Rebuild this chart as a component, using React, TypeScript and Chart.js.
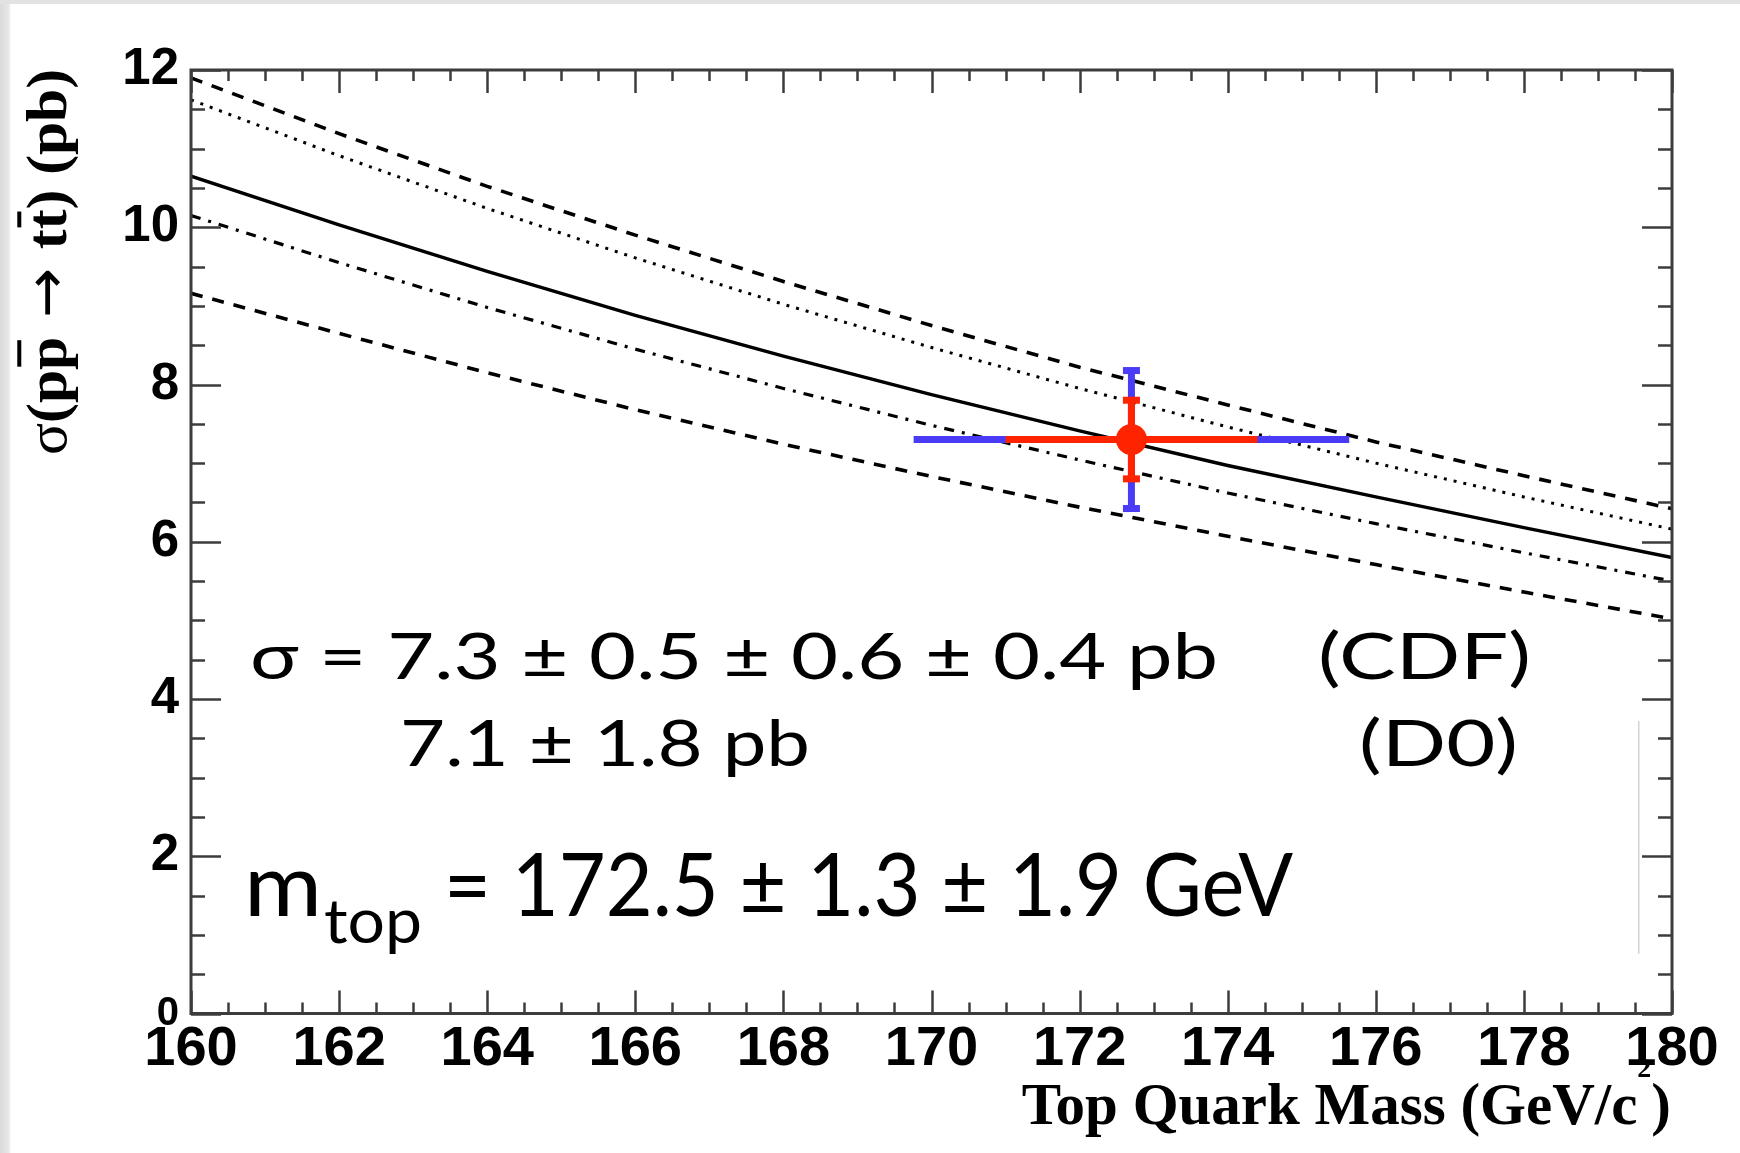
import React, { useEffect, useRef } from "react";
import { Chart, registerables } from "chart.js";

Chart.register(...registerables);

const CANVAS_W = 1740;
const CANVAS_H = 1153;

// Theory predictions: sigma(pp̄ -> tt̄) in pb versus top-quark mass in GeV/c^2
const massGrid = [160, 162, 164, 166, 168, 170, 172, 174, 176, 178, 180];
const sigmaCentral = [10.65, 10.03, 9.44, 8.88, 8.36, 7.87, 7.41, 6.97, 6.57, 6.18, 5.8];
const sigmaUpperDashed = [11.9, 11.19, 10.52, 9.9, 9.31, 8.75, 8.22, 7.74, 7.27, 6.84, 6.42];
const sigmaDotted = [11.62, 10.91, 10.24, 9.61, 9.02, 8.47, 7.95, 7.46, 7.0, 6.57, 6.16];
const sigmaDashDot = [10.15, 9.55, 8.98, 8.45, 7.95, 7.48, 7.04, 6.62, 6.23, 5.86, 5.5];
const sigmaLowerDashed = [9.16, 8.65, 8.15, 7.68, 7.24, 6.83, 6.44, 6.07, 5.71, 5.36, 5.02];

// Measured point with statistical and total uncertainties
const cdfMass = [172.7];
const cdfSigma = [7.3];
const massErrStat = [1.7];
const massErrSyst = [2.4];
const sigmaErrStat = [0.5];
const sigmaErrSyst = [0.6];
const sigmaErrLumi = [0.4];

// Axis ranges and tick spacing
const xRange = [160, 180];
const yRange = [0, 12];
const xMajorStep = 2;
const xMinorStep = 0.5;
const yMajorStep = 2;
const yMinorStep = 0.5;

// Annotation text
const sigmaLineCdf = "σ = 7.3 ± 0.5 ± 0.6 ± 0.4 pb";
const sigmaLineD0 = "7.1 ± 1.8 pb";
const cdfTag = "(CDF)";
const d0Tag = "(D0)";
const massSymbol = "m";
const massSubscript = "top";
const massValueText = "= 172.5 ± 1.3 ± 1.9 GeV";

const xTitleMain = "Top Quark Mass (GeV/c";
const xTitleSup = "2";
const xTitleClose = ")";

const RED = "#ff2400";
const BLUE = "#4a3cf6";
const FRAME = "#3c3c3c";
const SANS = '"Liberation Sans", Arial, Helvetica, sans-serif';
const SERIF = '"Liberation Serif", "DejaVu Serif", "Times New Roman", serif';
const HUMANIST = 'Lato, "Open Sans", "DejaVu Sans", sans-serif';

const quad = (...v: number[]) => Math.sqrt(v.reduce((s, e) => s + e * e, 0));

// Draw a string squeezed or stretched horizontally to span a given width
function fitText(ctx: CanvasRenderingContext2D, text: string, x: number, y: number, width: number) {
  const w = ctx.measureText(text).width;
  ctx.save();
  ctx.translate(x, y);
  ctx.scale(width / w, 1);
  ctx.fillText(text, 0, 0);
  ctx.restore();
}

const pageBackground = {
  id: "pageBackground",
  beforeDraw(chart: any) {
    const { ctx, width, height } = chart;
    ctx.save();
    ctx.fillStyle = "#ffffff";
    ctx.fillRect(0, 0, width, height);
    const g = ctx.createLinearGradient(0, 0, 11, 0);
    g.addColorStop(0, "#dadada");
    g.addColorStop(0.8, "#e8e8e8");
    g.addColorStop(1, "#ffffff");
    ctx.fillStyle = g;
    ctx.fillRect(0, 0, 11, height);
    ctx.fillStyle = "#e2e2e2";
    ctx.fillRect(0, 0, width, 4);
    ctx.restore();
  },
};

const isMultiple = (v: number, step: number) => Math.abs(v / step - Math.round(v / step)) < 1e-6;

const frameAndTicks = {
  id: "frameAndTicks",
  afterDatasetsDraw(chart: any) {
    const { ctx, chartArea: a, scales } = chart;
    const xs = scales.x;
    const ys = scales.y;
    ctx.save();
    ctx.strokeStyle = FRAME;
    ctx.lineCap = "butt";
    ctx.lineWidth = 2.5;
    ctx.beginPath();
    for (let v = xRange[0]; v <= xRange[1] + 1e-9; v += xMinorStep) {
      const px = Math.round(xs.getPixelForValue(v)) + 0.5;
      const len = isMultiple(v, xMajorStep) ? 23 : 11;
      ctx.moveTo(px, a.bottom);
      ctx.lineTo(px, a.bottom - len);
      ctx.moveTo(px, a.top);
      ctx.lineTo(px, a.top + len);
    }
    for (let v = yRange[0]; v <= yRange[1] + 1e-9; v += yMinorStep) {
      const py = Math.round(ys.getPixelForValue(v)) + 0.5;
      const len = isMultiple(v, yMajorStep) ? 30 : 14;
      ctx.moveTo(a.left, py);
      ctx.lineTo(a.left + len, py);
      ctx.moveTo(a.right, py);
      ctx.lineTo(a.right - len, py);
    }
    ctx.stroke();
    ctx.lineWidth = 3;
    ctx.strokeRect(a.left, a.top, a.right - a.left, a.bottom - a.top);
    ctx.restore();
  },
};

const errorBars = {
  id: "errorBars",
  beforeDatasetDraw(chart: any, args: any) {
    if (args.index !== 0) return;
    const { ctx, scales } = chart;
    const xs = scales.x;
    const ys = scales.y;
    ctx.save();
    for (let i = 0; i < cdfMass.length; i++) {
      const m = cdfMass[i];
      const s = cdfSigma[i];
      const cx = xs.getPixelForValue(m);
      const cy = ys.getPixelForValue(s);
      const layers = [
        { color: BLUE, dm: quad(massErrStat[i], massErrSyst[i]), ds: quad(sigmaErrStat[i], sigmaErrSyst[i], sigmaErrLumi[i]) },
        { color: RED, dm: massErrStat[i], ds: sigmaErrStat[i] },
      ];
      for (const L of layers) {
        ctx.strokeStyle = L.color;
        ctx.fillStyle = L.color;
        ctx.lineWidth = 7;
        ctx.lineCap = "butt";
        ctx.beginPath();
        ctx.moveTo(xs.getPixelForValue(m - L.dm), cy);
        ctx.lineTo(xs.getPixelForValue(m + L.dm), cy);
        const yTop = ys.getPixelForValue(s + L.ds);
        const yBot = ys.getPixelForValue(s - L.ds);
        ctx.moveTo(cx, yTop);
        ctx.lineTo(cx, yBot);
        ctx.stroke();
        ctx.fillRect(cx - 8.5, yTop - 3.5, 17, 7);
        ctx.fillRect(cx - 8.5, yBot - 3.5, 17, 7);
      }
    }
    ctx.restore();
  },
};

const titlesAndText = {
  id: "titlesAndText",
  afterDraw(chart: any) {
    const { ctx } = chart;
    ctx.save();
    ctx.fillStyle = "#000";
    ctx.textAlign = "left";
    ctx.textBaseline = "alphabetic";

    // y-axis title, rotated, reading upwards from y = 455 to y = 69
    ctx.save();
    ctx.translate(66, 455);
    ctx.rotate(-Math.PI / 2);
    const ySize = 58;
    const parts = [
      { t: "σ", f: `normal ${ySize}px ${SERIF}`, bar: false },
      { t: "(p", f: `bold ${ySize}px ${SERIF}`, bar: false },
      { t: "p", f: `bold ${ySize}px ${SERIF}`, bar: true },
      { t: " → ", f: `normal ${ySize}px "DejaVu Sans", sans-serif`, bar: false },
      { t: "t", f: `bold ${ySize}px ${SERIF}`, bar: false },
      { t: "t", f: `bold ${ySize}px ${SERIF}`, bar: true },
      { t: ") (pb)", f: `bold ${ySize}px ${SERIF}`, bar: false },
    ];
    let total = 0;
    for (const p of parts) {
      ctx.font = p.f;
      total += ctx.measureText(p.t).width;
    }
    ctx.scale(386 / total, 1);
    let px = 0;
    for (const p of parts) {
      ctx.font = p.f;
      ctx.fillText(p.t, px, 0);
      const w = ctx.measureText(p.t).width;
      if (p.bar) ctx.fillRect(px + w * 0.1, -ySize * 0.84, w * 0.8, 4);
      px += w;
    }
    ctx.restore();

    // x-axis title, right-aligned to the axis end
    const xSize = 59;
    ctx.font = `bold ${xSize}px ${SERIF}`;
    const wMain = ctx.measureText(xTitleMain).width;
    const wClose = ctx.measureText(xTitleClose).width;
    ctx.font = `bold 28px ${SERIF}`;
    const wSup = ctx.measureText(xTitleSup).width;
    const xStart = 1671 - (wMain + wSup + wClose);
    ctx.font = `bold ${xSize}px ${SERIF}`;
    ctx.fillText(xTitleMain, xStart, 1124);
    ctx.fillText(xTitleClose, xStart + wMain + wSup, 1124);
    ctx.font = `bold 28px ${SERIF}`;
    ctx.fillText(xTitleSup, xStart + wMain, 1077);

    // cross-section and mass statements
    ctx.font = `64px ${HUMANIST}`;
    fitText(ctx, sigmaLineCdf, 250, 679, 968);
    fitText(ctx, cdfTag, 1318, 679, 213);
    fitText(ctx, sigmaLineD0, 400, 766, 410);
    fitText(ctx, d0Tag, 1359, 766, 159);

    ctx.font = `88px ${HUMANIST}`;
    fitText(ctx, massSymbol, 244, 916, 78);
    fitText(ctx, massValueText, 444, 916, 849);
    ctx.font = `62px ${HUMANIST}`;
    fitText(ctx, massSubscript, 324, 943, 98);

    // thin vertical rule near the right edge of the text block
    ctx.fillStyle = "#d4d4d4";
    ctx.fillRect(1638, 721, 1.5, 233);
    ctx.restore();
  },
};

const toPoints = (ys: number[]) => massGrid.map((m, i) => ({ x: m, y: ys[i] }));

export default function App() {
  const canvasRef = useRef<HTMLCanvasElement | null>(null);

  useEffect(() => {
    document.body.style.margin = "0";
    const canvas = canvasRef.current;
    if (!canvas) return;
    const lineBase = { type: "line" as const, borderColor: "#000", pointRadius: 0, tension: 0, fill: false };
    const chart = new Chart(canvas, {
      type: "line",
      data: {
        datasets: [
          {
            type: "scatter",
            label: "CDF",
            data: cdfMass.map((m, i) => ({ x: m, y: cdfSigma[i] })),
            pointRadius: 15.5,
            pointHoverRadius: 15.5,
            backgroundColor: RED,
            borderWidth: 0,
          } as any,
          { ...lineBase, label: "upper", data: toPoints(sigmaUpperDashed), borderWidth: 3.6, borderDash: [12, 10] },
          { ...lineBase, label: "dotted", data: toPoints(sigmaDotted), borderWidth: 3, borderDash: [3, 7] },
          { ...lineBase, label: "central", data: toPoints(sigmaCentral), borderWidth: 3.4 },
          { ...lineBase, label: "dashdot", data: toPoints(sigmaDashDot), borderWidth: 3.2, borderDash: [10, 8, 3, 8] },
          { ...lineBase, label: "lower", data: toPoints(sigmaLowerDashed), borderWidth: 3.6, borderDash: [12, 10] },
        ],
      },
      options: {
        responsive: false,
        devicePixelRatio: 1,
        animation: false,
        events: [],
        layout: { padding: { left: 0, right: 68, top: 70, bottom: 0 } },
        plugins: { legend: { display: false }, tooltip: { enabled: false } },
        scales: {
          x: {
            type: "linear",
            min: xRange[0],
            max: xRange[1],
            grid: { display: false, drawTicks: false },
            border: { display: false },
            ticks: {
              stepSize: xMajorStep,
              autoSkip: false,
              maxRotation: 0,
              padding: 2,
              color: "#000",
              font: { family: SANS, weight: "bold", size: 56 },
            },
            afterFit: (s: any) => {
              s.height = 139.5;
            },
          },
          y: {
            type: "linear",
            min: yRange[0],
            max: yRange[1],
            grid: { display: false, drawTicks: false },
            border: { display: false },
            ticks: {
              stepSize: yMajorStep,
              padding: 12,
              color: "#000",
              font: (c: any) => ({ family: SANS, weight: "bold", size: c.tick && c.tick.value === 0 ? 40 : 51 }),
            },
            afterFit: (s: any) => {
              s.width = 191;
            },
          },
        },
      },
      plugins: [pageBackground, errorBars, frameAndTicks, titlesAndText],
    } as any);
    return () => chart.destroy();
  }, []);

  return (
    <div style={{ position: "absolute", left: 0, top: 0, width: CANVAS_W, height: CANVAS_H }}>
      <canvas ref={canvasRef} width={CANVAS_W} height={CANVAS_H} style={{ display: "block" }} />
    </div>
  );
}
